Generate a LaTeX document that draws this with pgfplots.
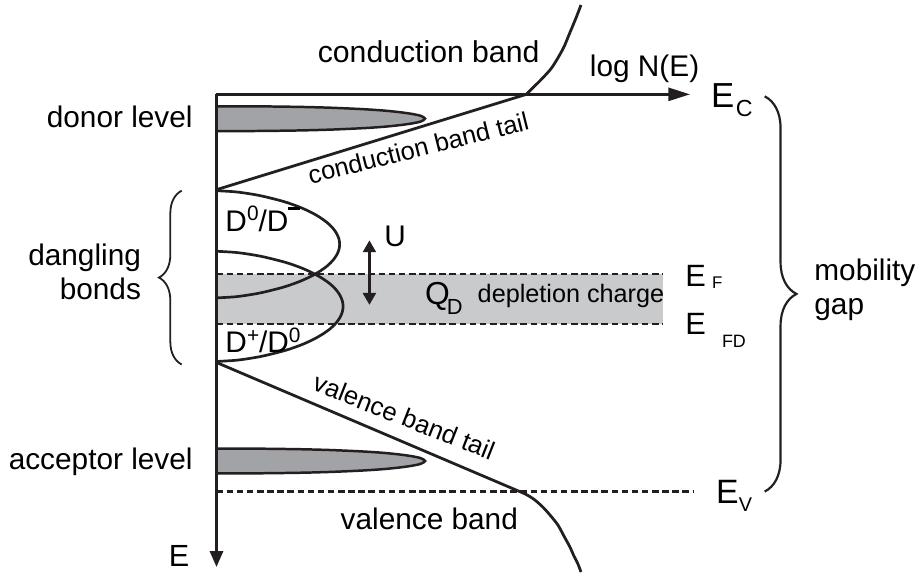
\documentclass[border=0pt]{standalone}
\usepackage{pgfplots}
\pgfplotsset{compat=1.18}
\usepackage{fontspec}
\setmainfont{Liberation Sans}
\usetikzlibrary{arrows.meta,decorations.pathreplacing}

\definecolor{ink}{HTML}{231F20}
\definecolor{lobefill}{HTML}{A2A3A6}
\definecolor{chargefill}{HTML}{C9CACC}

\newcommand{\fs}[1]{\fontsize{#1}{#1}\selectfont}

\begin{document}
\begin{tikzpicture}
\begin{axis}[
  width=461pt, height=288pt, scale only axis,
  xmin=0, xmax=922, ymin=0, ymax=576, y dir=reverse,
  hide axis, clip=false,
  every node/.style={inner sep=0pt, text=ink},
]
% frame that fixes the extent of the picture
\addplot[draw=none] coordinates {(0,0) (922,576)};

% depletion charge band between E_F and E_FD
\addplot[fill=chargefill, draw=none] coordinates {(218,276) (668,276) (668,326) (218,326)} -- cycle;
\addplot[ink, line width=1.1pt, dash pattern=on 3.3pt off 1.8pt] coordinates {(218,276) (668,276)};
\addplot[ink, line width=1.1pt, dash pattern=on 3.3pt off 1.8pt] coordinates {(218,326) (668,326)};
\addplot[ink, line width=1.1pt, dash pattern=on 3.3pt off 1.8pt] coordinates {(218,495) (699,495)};

% donor and acceptor levels
\addplot[fill=lobefill, draw=ink, line width=1.25pt, smooth] coordinates {
 (218,107.0) (260,107.1) (302,107.65) (333.5,108.5) (365,109.9) (386,111.3)
 (402.8,113.0) (415.4,114.8) (423.8,116.7) (428,119.5) (423.8,122.3) (415.4,124.2)
 (402.8,126.0) (386,127.7) (365,129.1) (333.5,130.5) (302,131.35) (260,131.9) (218,132.0)} -- cycle;
\addplot[fill=lobefill, draw=ink, line width=1.25pt, smooth] coordinates {
 (218,451.7) (260,451.8) (302,452.35) (333.5,453.2) (365,454.6) (386,456.0)
 (402.8,457.7) (415.4,459.5) (423.8,461.4) (428,464.2) (423.8,467.0) (415.4,468.9)
 (402.8,470.7) (386,472.4) (365,473.8) (333.5,475.2) (302,476.05) (260,476.6) (218,476.7)} -- cycle;

% dangling bond distributions D0/D- and D+/D0
\addplot[ink, line width=1.35pt, smooth] coordinates {
 (218,192) (235.9,193.08) (248.6,194.7) (263.8,197.4) (285.2,202.8) (300.8,208.2)
 (312.9,213.6) (322.3,219) (329.7,224.4) (335.2,229.8) (339,235.2) (341.3,240.6)
 (342,246) (341.3,251.4) (339,256.8) (335.2,262.2) (329.7,267.6) (322.3,273)
 (312.9,278.4) (300.8,283.8) (285.2,289.2) (263.8,294.6) (248.6,297.3) (235.9,298.92) (218,300)};
\addplot[ink, line width=1.35pt, smooth] coordinates {
 (218,253) (236.4,254.11) (249.5,255.78) (265,258.55) (287.1,264.1) (303.2,269.65)
 (315.5,275.2) (325.2,280.75) (332.9,286.3) (338.5,291.85) (342.4,297.4) (344.7,302.95)
 (345.5,308.5) (344.7,314.05) (342.4,319.6) (338.5,325.15) (332.9,330.7) (325.2,336.25)
 (315.5,341.8) (303.2,347.35) (287.1,352.9) (265,358.45) (249.5,361.23) (236.4,362.89) (218,364)};

% band tails and band edges
\addplot[ink, line width=1.4pt] coordinates {(218,191) (530,95)};
\addplot[ink, line width=1.4pt, smooth] coordinates {
 (530,95) (537,88) (546,79) (555,69) (562,58) (568,47) (573,35) (578,23) (582,13) (585,5)};
\addplot[ink, line width=1.4pt] coordinates {(218,365) (521,494)};
\addplot[ink, line width=1.4pt, smooth] coordinates {
 (521,494) (530,498) (538,503) (547,511) (555,520) (562,529) (568,540) (574,551) (578,560) (582,568) (585,576)};

% axes
\addplot[ink, line width=1.5pt, -{Triangle[length=11pt,width=6.5pt]}] coordinates {(218,95) (695,95)};
\addplot[ink, line width=1.5pt, -{Triangle[length=8pt,width=6.5pt]}] coordinates {(218,95) (218,571)};

% correlation energy U
\addplot[ink, line width=1.3pt, {Triangle[length=6pt,width=6.5pt]}-{Triangle[length=6pt,width=6.5pt]}] coordinates {(372,242) (372,307)};

% braces
\draw[ink, line width=0.9pt, decorate, decoration={brace, amplitude=11.5pt}]
  (axis cs:183,367) -- (axis cs:183,192);
\draw[ink, line width=1.1pt, decorate, decoration={brace, amplitude=16pt}]
  (axis cs:770,97) -- (axis cs:770,495);

% labels
\node[anchor=base west] at (axis cs:313,63) {\fs{15.2}conduction band};
\node[anchor=base west] at (axis cs:587,77) {\fs{15}log N(E)};
\node[anchor=base west] at (axis cs:709,108) {\fs{17.5}E};
\node[anchor=base west] at (axis cs:734,117) {\fs{11.7}C};
\node[anchor=base east] at (axis cs:201,128) {\fs{15}donor level};
\node[anchor=base east] at (axis cs:201,473) {\fs{15}acceptor level};
\node[anchor=base east] at (axis cs:149,267) {\fs{15}dangling};
\node[anchor=base east] at (axis cs:149,302) {\fs{15}bonds};
\node[anchor=base west] at (axis cs:220,233)
  {\fs{15}D\raisebox{5.6pt}{\fs{10.5}0}/D\raisebox{10.8pt}{\rule{6pt}{1.5pt}}};
\node[anchor=base west] at (axis cs:220,355)
  {\fs{15}D\raisebox{5pt}{\fs{10.5}+}/D\raisebox{5pt}{\fs{10.5}0}};
\node[anchor=base west] at (axis cs:380,248) {\fs{15}U};
\node[anchor=base west] at (axis cs:421,307) {\fs{16}Q};
\node[anchor=base west] at (axis cs:443,317) {\fs{11}D};
\node[anchor=base west] at (axis cs:474,305) {\fs{12.7}depletion charge};
\node[anchor=base west] at (axis cs:683,288) {\fs{15.5}E};
\node[anchor=base west] at (axis cs:710,290.5) {\fs{8.5}F};
\node[anchor=base west] at (axis cs:683,337) {\fs{15.5}E};
\node[anchor=base west] at (axis cs:720,349.5) {\fs{9}FD};
\node[anchor=base west] at (axis cs:714,507) {\fs{17}E};
\node[anchor=base west] at (axis cs:737,515) {\fs{10}V};
\node[anchor=base west] at (axis cs:163,570) {\fs{15.4}E};
\node[anchor=base west] at (axis cs:813,282) {\fs{15}mobility};
\node[anchor=base west] at (axis cs:813,317) {\fs{15}gap};
\node[anchor=base west] at (axis cs:336,533) {\fs{15}valence band};
\node[anchor=base west, rotate=14] at (axis cs:306,187) {\fs{12.8}conduction band tail};
\node[anchor=base west, rotate=-21.5] at (axis cs:307,390) {\fs{12.9}valence band tail};
\end{axis}
\end{tikzpicture}
\end{document}
